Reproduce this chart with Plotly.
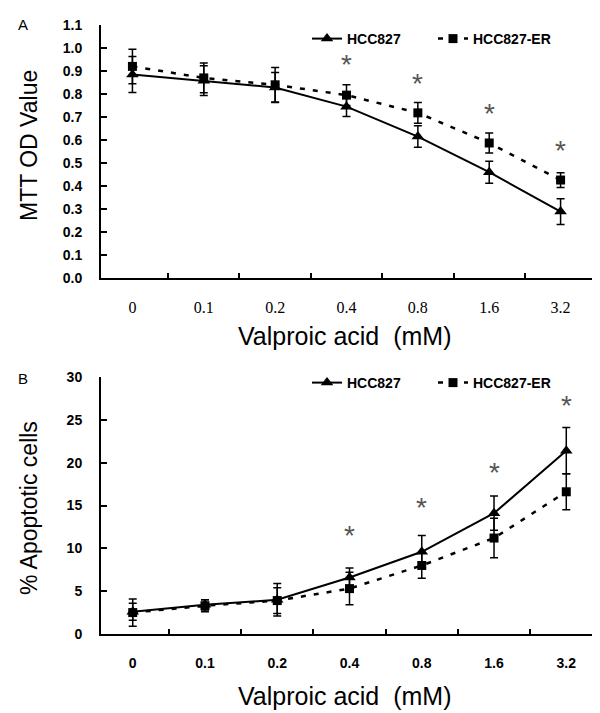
import plotly.graph_objects as go

# ---------------- data ----------------
doses = ["0", "0.1", "0.2", "0.4", "0.8", "1.6", "3.2"]

mtt_hcc827 = [0.885, 0.858, 0.828, 0.745, 0.615, 0.460, 0.289]
mtt_hcc827_err = [0.078, 0.065, 0.065, 0.043, 0.047, 0.048, 0.056]
mtt_er = [0.920, 0.870, 0.840, 0.795, 0.718, 0.587, 0.426]
mtt_er_err = [0.075, 0.065, 0.075, 0.045, 0.045, 0.043, 0.032]
mtt_star_doses = ["0.4", "0.8", "1.6", "3.2"]
mtt_star_y = [0.91, 0.827, 0.698, 0.538]

apo_hcc827 = [2.6, 3.4, 4.0, 6.6, 9.6, 14.1, 21.4]
apo_hcc827_err = [1.0, 0.6, 1.9, 1.1, 1.9, 2.0, 2.7]
apo_er = [2.5, 3.3, 3.9, 5.3, 8.0, 11.2, 16.6]
apo_er_err = [1.6, 0.7, 1.5, 1.9, 1.5, 2.3, 2.1]
apo_star_doses = ["0.4", "0.8", "1.6", "3.2"]
apo_star_y = [11.0, 14.3, 18.4, 26.2]

W, H = 600, 713
SANS = "Arial, Liberation Sans, Helvetica, sans-serif"
SERIF = "Times New Roman, Liberation Serif, serif"


def px_x(p):
    return p / W


def px_y(p):
    return 1 - p / H


fig = go.Figure()

line_solid = dict(color="black", width=2)
line_dash = dict(color="black", width=2.5, dash="5px,8px")
err_style = dict(type="data", color="black", thickness=1.5, width=4, visible=True)

# Panel A
fig.add_trace(go.Scatter(
    x=doses, y=mtt_hcc827, name="HCC827", mode="lines+markers",
    line=line_solid, marker=dict(symbol="triangle-up", size=11, color="black"),
    error_y=dict(array=mtt_hcc827_err, **err_style),
    xaxis="x", yaxis="y", legend="legend"))
fig.add_trace(go.Scatter(
    x=doses, y=mtt_er, name="HCC827-ER", mode="lines+markers",
    line=line_dash, marker=dict(symbol="square", size=9, color="black"),
    error_y=dict(array=mtt_er_err, **err_style),
    xaxis="x", yaxis="y", legend="legend"))

# Panel B
fig.add_trace(go.Scatter(
    x=doses, y=apo_hcc827, name="HCC827", mode="lines+markers",
    line=line_solid, marker=dict(symbol="triangle-up", size=11, color="black"),
    error_y=dict(array=apo_hcc827_err, **err_style),
    xaxis="x2", yaxis="y2", legend="legend2"))
fig.add_trace(go.Scatter(
    x=doses, y=apo_er, name="HCC827-ER", mode="lines+markers",
    line=line_dash, marker=dict(symbol="square", size=9, color="black"),
    error_y=dict(array=apo_er_err, **err_style),
    xaxis="x2", yaxis="y2", legend="legend2"))

STAR_FONT = dict(family=SANS, size=28, color="#555555")
annotations = []
for d, yv in zip(mtt_star_doses, mtt_star_y):
    annotations.append(dict(x=doses.index(d), y=yv, xref="x", yref="y", text="*",
                            showarrow=False, font=STAR_FONT,
                            yanchor="middle", yshift=4))
for d, yv in zip(apo_star_doses, apo_star_y):
    annotations.append(dict(x=doses.index(d), y=yv, xref="x2", yref="y2", text="*",
                            showarrow=False, font=STAR_FONT,
                            yanchor="middle", yshift=4))

# panel letters
annotations.append(dict(x=px_x(15), y=px_y(16), xref="paper", yref="paper", text="A",
                        showarrow=False, font=dict(family=SANS, size=15, color="black"),
                        xanchor="center", yanchor="middle"))
annotations.append(dict(x=px_x(15), y=px_y(370), xref="paper", yref="paper", text="B",
                        showarrow=False, font=dict(family=SANS, size=15, color="black"),
                        xanchor="center", yanchor="middle"))

# axis titles
annotations.append(dict(x=px_x(336), y=px_y(328), xref="paper", yref="paper",
                        text="Valproic acid  (mM)", showarrow=False,
                        font=dict(family=SANS, size=25, color="black"),
                        xanchor="center", yanchor="middle"))
annotations.append(dict(x=px_x(336), y=px_y(688), xref="paper", yref="paper",
                        text="Valproic acid  (mM)", showarrow=False,
                        font=dict(family=SANS, size=25, color="black"),
                        xanchor="center", yanchor="middle"))
annotations.append(dict(x=px_x(21), y=px_y(138), xref="paper", yref="paper",
                        text="MTT OD Value", showarrow=False, textangle=-90,
                        font=dict(family=SANS, size=23, color="black"),
                        xanchor="center", yanchor="middle"))
annotations.append(dict(x=px_x(21), y=px_y(500), xref="paper", yref="paper",
                        text="% Apoptotic cells", showarrow=False, textangle=-90,
                        font=dict(family=SANS, size=23, color="black"),
                        xanchor="center", yanchor="middle"))

xcommon = dict(type="category", showline=True, linecolor="black", linewidth=2,
               ticks="inside", tickson="boundaries", ticklen=5, tickwidth=2,
               tickcolor="black", showgrid=False, zeroline=False, automargin=False,
               fixedrange=True)
ycommon = dict(showline=True, linecolor="black", linewidth=2, ticks="inside",
               ticklen=6, tickwidth=2, tickcolor="black", showgrid=False,
               zeroline=False, automargin=False, ticklabelstandoff=14,
               tickfont=dict(family=SANS, size=14, color="black", weight="bold"))

legend_common = dict(xanchor="left", yanchor="middle", orientation="h",
                     bgcolor="rgba(0,0,0,0)", borderwidth=0,
                     font=dict(family=SANS, size=14, color="black", weight="bold"),
                     entrywidth=81, entrywidthmode="pixels", tracegroupgap=0)

fig.update_layout(
    width=W, height=H,
    margin=dict(l=0, r=0, t=0, b=0),
    paper_bgcolor="white", plot_bgcolor="white",
    template="none",
    xaxis=dict(domain=[px_x(93), px_x(584)], anchor="y",
               tickfont=dict(family=SERIF, size=16, color="black"),
               ticklabelstandoff=14, **xcommon),
    yaxis=dict(domain=[px_y(270), px_y(17)], anchor="x", range=[0, 1.1],
               dtick=0.1, tick0=0, tickformat=".1f", **ycommon),
    xaxis2=dict(domain=[px_x(93), px_x(590)], anchor="y2",
                tickfont=dict(family=SANS, size=14, color="black", weight="bold"),
                ticklabelstandoff=15, **xcommon),
    yaxis2=dict(domain=[px_y(626), px_y(369)], anchor="x2", range=[0, 30],
                dtick=5, tick0=0, **ycommon),
    legend=dict(x=px_x(299), y=px_y(31), **legend_common),
    legend2=dict(x=px_x(299), y=px_y(375), **legend_common),
    annotations=annotations,
    showlegend=True,
)

fig.write_html("out.html")
